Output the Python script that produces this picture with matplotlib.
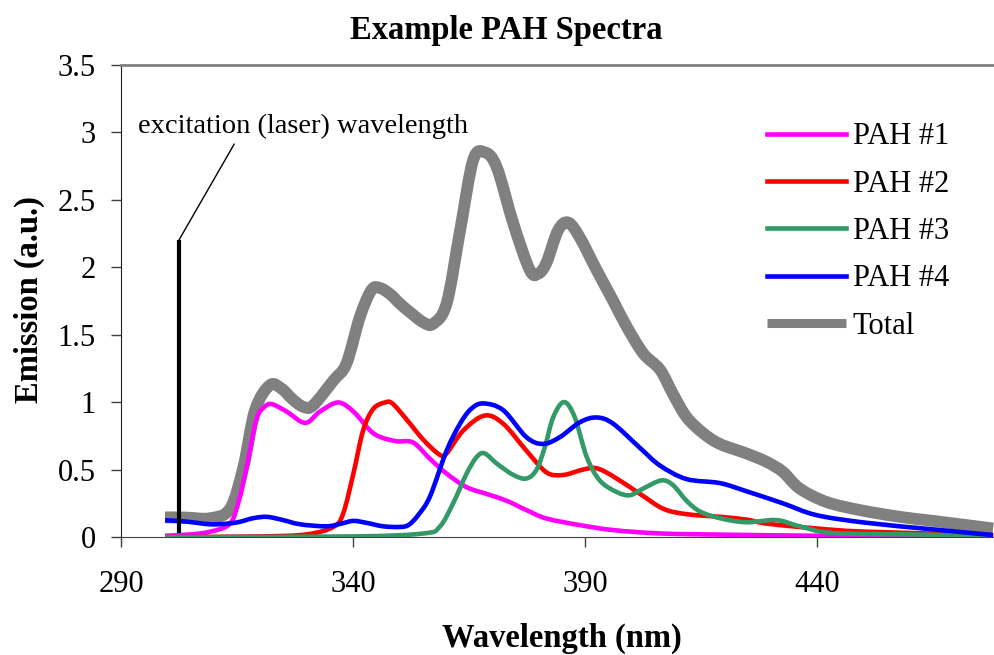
import matplotlib
matplotlib.use('Agg')
import matplotlib.pyplot as plt
import numpy as np
from matplotlib.path import Path
from matplotlib.patches import PathPatch
from matplotlib.lines import Line2D
from matplotlib.ticker import FuncFormatter

plt.rcParams['font.family'] = ['Liberation Serif', 'DejaVu Serif']

# traced values (wavelength nm, emission a.u.)
total_nm = [299.5, 304, 309.2, 313.5, 316.4, 318.9, 322.1, 324.6, 327, 329.3, 331.4, 335.8, 338.6,
            341.5, 344.0, 345.8, 348.0, 350.1, 352.5, 355.2, 357.3, 360.2, 363.1, 365.9, 368.4,
            371.0, 374.6, 378.1, 379.9, 381.7, 384.2, 386.4, 388.9, 392.5, 396.1, 399.0, 402.6,
            406.2, 409.0, 411.9, 415.5, 419.1, 424.8, 429.2, 432.7, 436.3, 442.1, 449.3, 457.9,
            465.1, 478.0]
total_val = [0.146, 0.145, 0.14, 0.21, 0.52, 0.94, 1.125, 1.10, 1.02, 0.965, 0.975, 1.16, 1.285,
             1.63, 1.83, 1.845, 1.80, 1.73, 1.66, 1.59, 1.58, 1.73, 2.27, 2.79, 2.85,
             2.74, 2.32, 1.98, 1.95, 2.03, 2.27, 2.33, 2.22, 1.98, 1.75, 1.56, 1.36,
             1.24, 1.06, 0.89, 0.77, 0.69, 0.62, 0.557, 0.483, 0.36, 0.26, 0.20, 0.15,
             0.12, 0.064]

pah1_nm = [299.5, 305, 309.2, 313.5, 315.5, 317.1, 319.2, 320.8, 322.5, 325.7, 329.7, 332.9, 336.8,
           340.1, 343.7, 346, 349.4, 353.0, 356.6, 360.2, 364.5, 368.8, 373.1, 377.4, 381.7,
           388.9, 396.1, 406.2, 420, 440, 460, 478]
pah1_val = [0.01, 0.02, 0.04, 0.10, 0.28, 0.52, 0.87, 0.96, 0.985, 0.93, 0.846, 0.93, 0.997,
            0.93, 0.79, 0.74, 0.71, 0.70, 0.58, 0.47, 0.37, 0.32, 0.27, 0.20, 0.138,
            0.089, 0.052, 0.027, 0.018, 0.01, 0.005, 0.003]

pah2_nm = [299.5, 320, 330, 335.8, 337.9, 340.1, 342.2, 344.4, 346.9, 348.5, 351.6, 355.2, 358.7,
           360.2, 363.8, 368.4, 372.4, 377.4, 381.7, 385.3, 389.6, 392.5, 396.1, 401.9, 406.9,
           411.9, 419.1, 424.8, 429.2, 439.9, 450.7, 478]
pah2_val = [0.0, 0.005, 0.02, 0.076, 0.175, 0.47, 0.79, 0.95, 0.997, 0.99, 0.87, 0.72, 0.61,
            0.62, 0.79, 0.90, 0.84, 0.64, 0.48, 0.46, 0.50, 0.51, 0.45, 0.32, 0.21,
            0.17, 0.15, 0.13, 0.10, 0.064, 0.04, 0.015]

pah3_nm = [299.5, 340, 355.2, 358.7, 361.6, 364.5, 366.7, 368.4, 371.0, 374.6, 377.4, 379.6, 381.4,
           383.2, 385.5, 387.8, 390.4, 393.2, 396.8, 399.7, 402.6, 406.5, 409.0, 411.9, 414.8,
           419.1, 424.8, 431.3, 436.3, 443.5, 460, 478]
pah3_val = [0.0, 0.005, 0.027, 0.076, 0.25, 0.47, 0.594, 0.62, 0.545, 0.46, 0.434, 0.50, 0.67,
            0.89, 1.0, 0.89, 0.594, 0.42, 0.335, 0.31, 0.36, 0.42, 0.385, 0.27, 0.19,
            0.14, 0.11, 0.126, 0.08, 0.03, 0.02, 0.01]

pah4_nm = [299.5, 304, 309.2, 313, 315.6, 318.5, 321.4, 324.5, 328.6, 334.3, 337.5, 340.1, 343,
           346.5, 350.1, 352, 354, 356.6, 360.2, 363.1, 365.5, 368.1, 372.4, 377.4, 381.0,
           384.6, 388.9, 392.5, 396.1, 401.9, 406.2, 411.9, 419.1, 424.8, 432.7, 439.9,
           450.7, 465.1, 478]
pah4_val = [0.125, 0.115, 0.095, 0.10, 0.113, 0.14, 0.15, 0.13, 0.095, 0.08, 0.10, 0.12, 0.105,
            0.08, 0.075, 0.09, 0.16, 0.30, 0.64, 0.84, 0.95, 0.99, 0.94, 0.74, 0.69,
            0.74, 0.85, 0.886, 0.84, 0.66, 0.53, 0.43, 0.40, 0.34, 0.25, 0.163,
            0.106, 0.057, 0.015]

laser_nm = 302.5
laser_top = 2.2


def smooth_line(ax, xs, ys, color, width, z):
    # Excel-style smoothed line: Catmull-Rom segments drawn as cubic Beziers
    p = np.column_stack([xs, ys]).astype(float)
    n = len(p)
    verts = [p[0]]
    codes = [Path.MOVETO]
    for i in range(n - 1):
        p0 = p[i - 1] if i > 0 else p[i]
        p3 = p[i + 2] if i + 2 < n else p[i + 1]
        c1 = p[i] + (p[i + 1] - p0) / 6.0
        c2 = p[i + 1] - (p3 - p[i]) / 6.0
        verts += [c1, c2, p[i + 1]]
        codes += [Path.CURVE4] * 3
    patch = PathPatch(Path(verts, codes), fill=False, edgecolor=color, lw=width,
                      joinstyle='round', capstyle='butt', zorder=z)
    ax.add_patch(patch)


fig = plt.figure(figsize=(9.94, 6.55), dpi=100)
ax = fig.add_axes([0.1217, 0.180, 0.8783, 0.7215])

lw = 3.3
smooth_line(ax, total_nm, total_val, '#808080', 8.5, 2)
smooth_line(ax, pah1_nm, pah1_val, '#FF00FF', lw, 3)
smooth_line(ax, pah2_nm, pah2_val, '#FF0000', lw, 3)
smooth_line(ax, pah3_nm, pah3_val, '#339966', lw, 3)
smooth_line(ax, pah4_nm, pah4_val, '#0000FF', lw, 3)

handles = [Line2D([], [], color='#FF00FF', lw=lw, label='PAH #1'),
           Line2D([], [], color='#FF0000', lw=lw, label='PAH #2'),
           Line2D([], [], color='#339966', lw=lw, label='PAH #3'),
           Line2D([], [], color='#0000FF', lw=lw, label='PAH #4'),
           Line2D([], [], color='#808080', lw=6.5, solid_capstyle='butt', label='Total')]

# excitation marker and callout
ax.plot([laser_nm, laser_nm], [0.03, laser_top], color='black', lw=3, zorder=4,
        solid_capstyle='butt')
ax.plot([laser_nm, 314.4], [laser_top, 2.91], color='black', lw=1, zorder=4)
ax.text(293.7, 3.04, 'excitation (laser) wavelength', fontsize=20.5, va='center', ha='left')

ax.set_xlim(290, 478.2)
ax.set_ylim(0, 3.5)
ax.set_xticks([290, 340, 390, 440])
ax.set_yticks([0, 0.5, 1, 1.5, 2, 2.5, 3, 3.5])
ax.yaxis.set_major_formatter(FuncFormatter(lambda v, p: ('%g' % v)))
ax.tick_params(labelsize=22, length=7, width=1, color='#404040')
ax.tick_params(axis='x', pad=17)
ax.tick_params(axis='y', pad=11)

ax.spines['right'].set_visible(False)
ax.spines['top'].set_color('#808080')
ax.spines['top'].set_linewidth(2)
ax.spines['bottom'].set_color('#404040')
ax.spines['left'].set_color('#202020')

fig.text(0.509, 0.954, 'Example PAH Spectra', fontsize=23.5, fontweight='bold', ha='center', va='center')
fig.text(0.565, 0.026, 'Wavelength (nm)', fontsize=23.5, fontweight='bold', ha='center', va='center')
fig.text(0.030, 0.542, 'Emission (a.u.)', fontsize=23.5, fontweight='bold', ha='center', va='center',
         rotation=90)

ax.legend(handles=handles, loc='upper left', bbox_to_anchor=(0.7716, 0.813),
          bbox_transform=fig.transFigure, frameon=False, fontsize=22, borderpad=0,
          borderaxespad=0, handlelength=2.58, handletextpad=0.23, labelspacing=0.60)

fig.savefig('out.png', dpi=100)
